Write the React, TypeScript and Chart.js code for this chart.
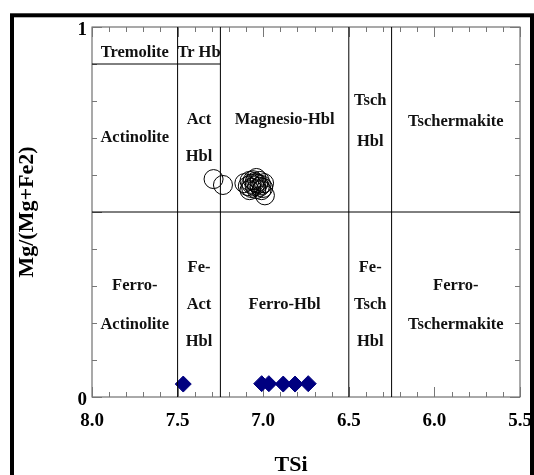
import { useEffect, useRef } from 'react';
import { Chart, registerables } from 'chart.js';
Chart.register(...registerables);

// Field boundaries (x = TSi, y = Mg/(Mg+Fe2))
const boundaryLines: { x: number; y: number }[][] = [
  [{ x: 7.5, y: 0 }, { x: 7.5, y: 1 }],
  [{ x: 7.25, y: 0 }, { x: 7.25, y: 1 }],
  [{ x: 6.5, y: 0 }, { x: 6.5, y: 1 }],
  [{ x: 6.25, y: 0 }, { x: 6.25, y: 1 }],
  [{ x: 8.0, y: 0.5 }, { x: 5.5, y: 0.5 }],
  [{ x: 8.0, y: 0.9 }, { x: 7.25, y: 0.9 }],
];

// Field names
const regionLabels = [
  { text: 'Tremolite', x: 7.75, y: 0.93 },
  { text: 'Tr Hb', x: 7.375, y: 0.93 },
  { text: 'Actinolite', x: 7.75, y: 0.70 },
  { text: 'Act', x: 7.375, y: 0.75 },
  { text: 'Hbl', x: 7.375, y: 0.65 },
  { text: 'Magnesio-Hbl', x: 6.875, y: 0.75 },
  { text: 'Tsch', x: 6.375, y: 0.80 },
  { text: 'Hbl', x: 6.375, y: 0.69 },
  { text: 'Tschermakite', x: 5.875, y: 0.745 },
  { text: 'Ferro-', x: 7.75, y: 0.30 },
  { text: 'Actinolite', x: 7.75, y: 0.195 },
  { text: 'Fe-', x: 7.375, y: 0.35 },
  { text: 'Act', x: 7.375, y: 0.25 },
  { text: 'Hbl', x: 7.375, y: 0.15 },
  { text: 'Ferro-Hbl', x: 6.875, y: 0.25 },
  { text: 'Fe-', x: 6.375, y: 0.35 },
  { text: 'Tsch', x: 6.375, y: 0.25 },
  { text: 'Hbl', x: 6.375, y: 0.15 },
  { text: 'Ferro-', x: 5.875, y: 0.30 },
  { text: 'Tschermakite', x: 5.875, y: 0.195 },
];

// Open circles
const circleTSi = [7.29, 7.235, 7.11, 7.09, 7.08, 7.07, 7.07, 7.06, 7.05, 7.05, 7.04, 7.04, 7.03, 7.02, 7.02, 7.01, 7.01, 7.0, 6.99, 7.08, 7.04, 6.995];
const circleMg = [0.589, 0.573, 0.578, 0.57, 0.584, 0.576, 0.565, 0.586, 0.581, 0.57, 0.578, 0.562, 0.576, 0.568, 0.584, 0.573, 0.559, 0.565, 0.545, 0.559, 0.592, 0.578];

// Filled diamonds
const diamondTSi = [7.467, 7.009, 6.967, 6.883, 6.814, 6.737];
const diamondMg = [0.035, 0.036, 0.036, 0.035, 0.035, 0.036];

const FONT = "'Liberation Serif', 'Times New Roman', serif";

const decorPlugin = {
  id: 'decor',
  beforeDraw(chart: any) {
    const ctx = chart.ctx;
    ctx.save();
    ctx.fillStyle = '#ffffff';
    ctx.fillRect(0, 0, chart.width, chart.height);
    ctx.strokeStyle = '#000000';
    ctx.lineWidth = 4;
    ctx.strokeRect(12, 15.3, 520, 500);
    ctx.restore();
  },
  beforeDatasetsDraw(chart: any) {
    const { ctx, chartArea: a, scales } = chart;
    const xs = scales.x;
    const ys = scales.y;
    ctx.save();
    ctx.strokeStyle = '#555555';
    ctx.lineWidth = 1;
    ctx.strokeRect(a.left, a.top, a.right - a.left, a.bottom - a.top);
    ctx.strokeStyle = '#777777';
    ctx.beginPath();
    for (let i = 0; i <= 25; i++) {
      const v = 5.5 + i * 0.1;
      const px = Math.round(xs.getPixelForValue(v)) + 0.5;
      const len = i % 5 === 0 ? 10 : 5;
      ctx.moveTo(px, a.bottom);
      ctx.lineTo(px, a.bottom - len);
      ctx.moveTo(px, a.top);
      ctx.lineTo(px, a.top + len);
    }
    for (let i = 0; i <= 10; i++) {
      const v = i * 0.1;
      const py = Math.round(ys.getPixelForValue(v)) + 0.5;
      const len = i % 5 === 0 ? 10 : 5;
      ctx.moveTo(a.left, py);
      ctx.lineTo(a.left + len, py);
      ctx.moveTo(a.right, py);
      ctx.lineTo(a.right - len, py);
    }
    ctx.stroke();
    ctx.restore();
  },
  afterDatasetsDraw(chart: any) {
    const { ctx, scales } = chart;
    ctx.save();
    ctx.fillStyle = '#111111';
    ctx.font = `bold 16.5px ${FONT}`;
    ctx.textAlign = 'center';
    ctx.textBaseline = 'middle';
    regionLabels.forEach((l) => {
      ctx.fillText(l.text, scales.x.getPixelForValue(l.x), scales.y.getPixelForValue(l.y));
    });
    ctx.font = `bold 22px ${FONT}`;
    ctx.fillStyle = '#000000';
    ctx.fillText('TSi', 291, 465);
    ctx.restore();
  },
};

export default function App() {
  const ref = useRef<HTMLCanvasElement | null>(null);
  useEffect(() => {
    if (!ref.current) return;
    const lineSets = boundaryLines.map((pts) => ({
      type: 'scatter' as const,
      data: pts,
      showLine: true,
      borderColor: '#000000',
      borderWidth: 1,
      pointRadius: 0,
      fill: false,
    }));
    const chart = new Chart(ref.current, {
      type: 'scatter',
      data: {
        datasets: [
          ...lineSets,
          {
            data: circleTSi.map((x, i) => ({ x, y: circleMg[i] })),
            pointStyle: 'circle',
            pointRadius: 9.5,
            borderColor: '#000000',
            borderWidth: 1,
            backgroundColor: 'rgba(0,0,0,0)',
          },
          {
            data: diamondTSi.map((x, i) => ({ x, y: diamondMg[i] })),
            pointStyle: 'rectRot',
            pointRadius: 8,
            borderColor: '#000080',
            borderWidth: 1,
            backgroundColor: '#000080',
          },
        ] as any,
      },
      options: {
        animation: false,
        responsive: false,
        events: [],
        layout: { padding: { top: 27, right: 14, left: 0, bottom: 0 } },
        plugins: { legend: { display: false }, tooltip: { enabled: false } },
        scales: {
          x: {
            type: 'linear',
            min: 5.5,
            max: 8,
            reverse: true,
            grid: { display: false, drawTicks: false },
            border: { display: false },
            ticks: {
              stepSize: 0.5,
              autoSkip: false,
              maxRotation: 0,
              padding: 13,
              color: '#000000',
              font: { family: FONT, size: 19, weight: 'bold' },
              callback: (v: any) => Number(v).toFixed(1),
            },
            afterFit: (s: any) => {
              s.height = 78;
              s.paddingLeft = 0;
              s.paddingRight = 0;
            },
          },
          y: {
            type: 'linear',
            min: 0,
            max: 1,
            grid: { display: false, drawTicks: false },
            border: { display: false },
            ticks: {
              stepSize: 1,
              padding: 5,
              labelOffset: 3,
              color: '#000000',
              font: { family: FONT, size: 19, weight: 'bold' },
              callback: (v: any) => String(v),
            },
            title: {
              display: true,
              text: 'Mg/(Mg+Fe2)',
              color: '#000000',
              font: { family: FONT, size: 22, weight: 'bold', lineHeight: 1.2 },
              padding: { top: 14, bottom: 0 },
            },
            afterFit: (s: any) => {
              s.width = 92;
              s.paddingTop = 0;
              s.paddingBottom = 0;
            },
          },
        },
      },
      plugins: [decorPlugin],
    });
    return () => chart.destroy();
  }, []);
  return (
    <div style={{ position: 'absolute', left: 0, top: 0, width: 534, height: 475 }}>
      <canvas ref={ref} width={534} height={475} style={{ width: 534, height: 475 }} />
    </div>
  );
}
